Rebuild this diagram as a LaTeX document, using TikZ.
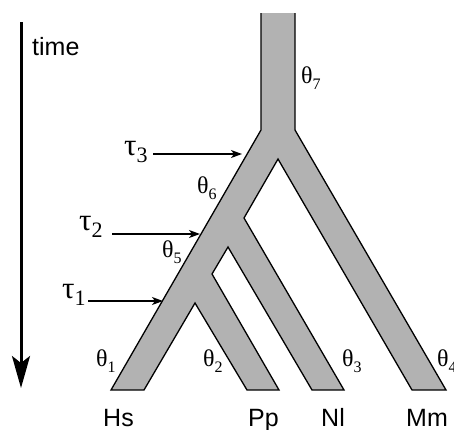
\documentclass[tikz,border=0pt]{standalone}
\usepackage{fontspec}
\setmainfont{Liberation Serif}
\newfontfamily\sansf{Liberation Sans}
\usetikzlibrary{arrows.meta}
\definecolor{branchgray}{RGB}{178,178,178}
\newcommand\thsub[1]{θ\raisebox{-6pt}{\fontsize{16}{18}\selectfont #1}}
\newcommand\tausub[1]{τ\raisebox{-7.5pt}{\fontsize{22}{24}\selectfont #1}}
\begin{document}
\begin{tikzpicture}[x=1pt,y=-1pt,
  sanslabel/.style={anchor=base west,inner sep=0pt,font=\sansf\fontsize{25}{30}\selectfont},
  thetalabel/.style={anchor=base west,inner sep=0pt,font=\fontsize{24}{28}\selectfont},
  taulabel/.style={anchor=base west,inner sep=0pt,font=\fontsize{31}{34}\selectfont},
  tree/.style={fill=branchgray,draw=black,line width=1.3pt,line join=miter},
  tauarrow/.style={line width=1.3pt,-{Stealth[length=11pt,width=8pt,inset=3pt]}},
  timearrow/.style={line width=3pt,-{Stealth[length=32pt,width=18pt,inset=7pt]}}]
\useasboundingbox (0,0) rectangle (454,429);

% tree shape
\filldraw[tree] (261,13) -- (261,130) -- (111,390) -- (144,390) -- (195,303)
  -- (247,390) -- (279,390) -- (212,274) -- (228,247) -- (312,390)
  -- (344,390) -- (244,218) -- (278,159) -- (412,390) -- (446,390)
  -- (295,130) -- (295,13);

% time arrow
\coordinate (timetop) at (21,22);
\coordinate (timebot) at (21,388);
\draw[timearrow] (timetop) -- (timebot);
\node[sanslabel] (time) at (32,55) {time};

% leaf labels
\node[sanslabel] (hs) at (103,426) {Hs};
\node[sanslabel] (pp) at (248,426) {Pp};
\node[sanslabel] (nl) at (321,426) {Nl};
\node[sanslabel] (mm) at (406,426) {Mm};

% theta labels
\node[thetalabel] (th7) at (301,83) {\thsub{7}};
\node[thetalabel] (th6) at (197,193) {\thsub{6}};
\node[thetalabel] (th5) at (162,257) {\thsub{5}};
\node[thetalabel] (th1) at (96,366) {\thsub{1}};
\node[thetalabel] (th2) at (203,366) {\thsub{2}};
\node[thetalabel] (th3) at (342,366) {\thsub{3}};
\node[thetalabel] (th4) at (437,366) {\thsub{4}};

% tau labels and arrows
\node[taulabel] (tau3) at (124,155) {\tausub{3}};
\node[taulabel] (tau2) at (79,230) {\tausub{2}};
\node[taulabel] (tau1) at (62,298) {\tausub{1}};
\coordinate (t3s) at (153,154);
\coordinate (t3e) at (242,154);
\coordinate (t2s) at (112,234);
\coordinate (t2e) at (200,234);
\coordinate (t1s) at (88,301);
\coordinate (t1e) at (163,301);
\draw[tauarrow] (t3s) -- (t3e);
\draw[tauarrow] (t2s) -- (t2e);
\draw[tauarrow] (t1s) -- (t1e);
\end{tikzpicture}
\end{document}
